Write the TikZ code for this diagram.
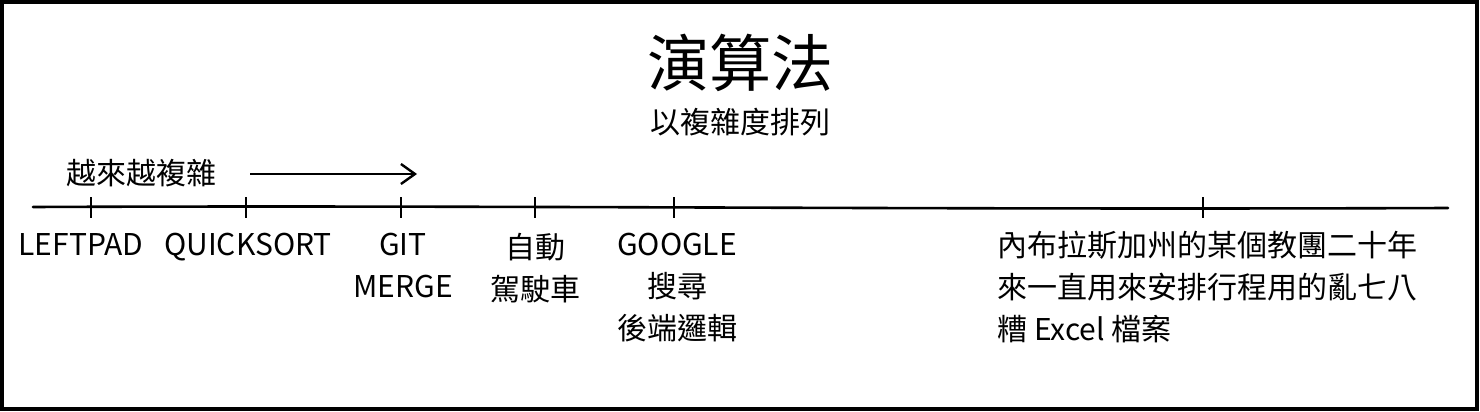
\documentclass[tikz,border=0pt]{standalone}
\usepackage{fontspec}
\setmainfont{Noto Sans CJK TC}
\usetikzlibrary{arrows.meta}
\begin{document}
\begin{tikzpicture}[x=0.5pt,y=-0.5pt,
  lbl/.style={font=\fontsize{15pt}{21pt}\selectfont, align=center, inner sep=0pt, anchor=center},
  tickmark/.style={line width=1.1pt},
  axisline/.style={line width=1.3pt, line cap=round}]
\useasboundingbox (0,0) rectangle (1480,412);
\draw[line width=2pt] (2,2) rectangle (1477,409);
% title
\node[font=\fontsize{31pt}{31pt}\selectfont, inner sep=0pt] (title) at (740,63) {演算法};
\node[font=\fontsize{15pt}{15pt}\selectfont, inner sep=0pt] (sub) at (740,122) {以複雜度排列};
% arrow
\node[lbl] (more) at (142,173) {越來越複雜};
\coordinate (as) at (250,174);
\coordinate (ae) at (417,174);
\draw[line width=1.2pt, -{Straight Barb[length=7pt,width=10pt,line width=1.2pt]}] (as) -- (ae);
% axis
\coordinate (l) at (33,207);
\coordinate (r) at (1448,208);
\draw[axisline] (l) .. controls (500,205) and (900,210) .. (r);
\foreach \x/\n in {91/t1,246/t2,401/t3,535/t4,674/t5,1203/t6}{
  \coordinate (\n a) at (\x,197);
  \coordinate (\n b) at (\x,218);
  \draw[tickmark] (\n a) -- (\n b);
}
% labels
\node[lbl, anchor=north] (leftpad) at (81,233) {LEFTPAD};
\node[lbl, anchor=north] (qs) at (248,233) {QUICKSORT};
\node[lbl, anchor=north] (git) at (403,233) {GIT\\MERGE};
\node[lbl, anchor=north] (auto) at (535,233) {自動\\駕駛車};
\node[lbl, anchor=north] (goog) at (677,233) {GOOGLE\\搜尋\\後端邏輯};
\node[lbl, anchor=north west, align=left] (excel) at (997,231) {內布拉斯加州的某個教團二十年\\來一直用來安排行程用的亂七八\\糟 Excel 檔案};
\end{tikzpicture}
\end{document}
